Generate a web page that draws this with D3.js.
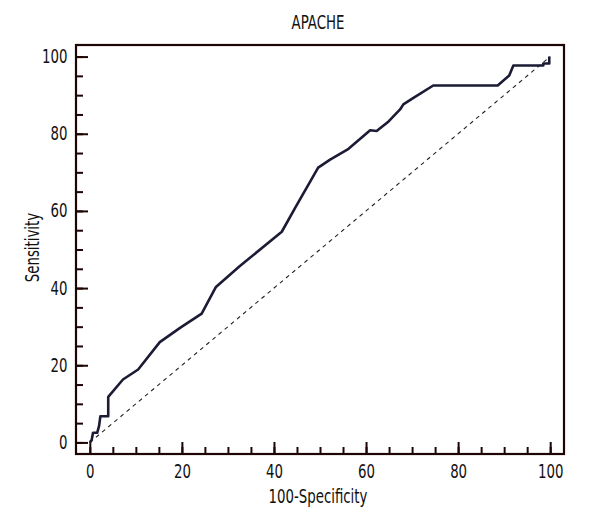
<!DOCTYPE html>
<html>
<head>
<meta charset="utf-8">
<script src="https://cdn.jsdelivr.net/npm/d3@7"></script>
<style>
  body { margin: 0; background: #fff; }
  text { font-family: "DejaVu Sans Condensed", "DejaVu Sans", sans-serif; fill: #111; }
</style>
</head>
<body>
<script>
// ROC curve points (100-specificity, sensitivity)
const fpr = [0, 0.4, 0.7, 1.6, 2.0, 2.3, 4.0, 4.0, 7.2, 10.5, 15.2, 19.6, 24.3, 27.4, 32.6, 41.7,
             44.6, 49.6, 52.2, 56.2, 60.9, 62.3, 64.9, 67.4, 68.1, 70.3, 74.6, 88.6, 91.1, 92.0,
             98.5, 98.5, 99.8, 99.8];
const tpr = [0, 0.6, 2.5, 2.5, 4.2, 6.8, 6.8, 11.8, 16.3, 18.9, 26.0, 29.7, 33.4, 40.3, 45.7, 54.6,
             60.8, 71.2, 73.3, 76.1, 80.9, 80.7, 83.2, 86.3, 87.6, 89.3, 92.5, 92.5, 95.1, 97.7,
             97.7, 98.2, 98.2, 100];
const diagonal = [0, 100];
const major_ticks = [0, 20, 40, 60, 80, 100];
const minor_ticks = d3.range(0, 101, 5);
const title = "APACHE";
const x_title = "100-Specificity";
const y_title = "Sensitivity";

const margin = {top: 45, right: 36, bottom: 66, left: 76};
const width = 600 - margin.left - margin.right;
const height = 520 - margin.top - margin.bottom;
const axis_color = "#1e0505";
const line_color = "#1b1b35";
const font_size = "19px";
const squeeze = 0.78; // reference font is a narrow one

let svg = d3.select("body").append("svg")
        .attr("width", 600)
        .attr("height", 520);

let g = svg.append("g")
        .attr("transform", "translate(" + margin.left + "," + margin.top + ")");

let x = d3.scaleLinear().domain([-3, 103]).range([0, width]);
let y = d3.scaleLinear().domain([-3, 103]).range([height, 0]);

// minor ticks
g.append("g")
  .attr("transform", "translate(0," + height + ")")
  .call(d3.axisBottom(x).tickValues(minor_ticks).tickSize(-7).tickFormat(""))
  .call(a => a.select(".domain").remove());
g.append("g")
  .call(d3.axisLeft(y).tickValues(minor_ticks).tickSize(-7).tickFormat(""))
  .call(a => a.select(".domain").remove());

// major ticks with labels
let xaxis = g.append("g")
  .attr("transform", "translate(0," + height + ")")
  .call(d3.axisBottom(x).tickValues(major_ticks).tickSize(-12).tickPadding(11));
let yaxis = g.append("g")
  .call(d3.axisLeft(y).tickValues(major_ticks).tickSize(-12).tickPadding(11));

[xaxis, yaxis].forEach(a => {
  a.select(".domain").remove();
  a.selectAll("text")
    .style("font-size", font_size)
    .attr("fill", "#111")
    .attr("transform", "scale(" + squeeze + ",1)");
});
g.selectAll(".tick line").attr("stroke", axis_color).attr("stroke-width", 2);

// frame
g.append("rect")
  .attr("width", width)
  .attr("height", height)
  .attr("fill", "none")
  .attr("stroke", axis_color)
  .attr("stroke-width", 2.2);

// reference diagonal
g.append("line")
  .attr("x1", x(diagonal[0])).attr("y1", y(diagonal[0]))
  .attr("x2", x(diagonal[1])).attr("y2", y(diagonal[1]))
  .attr("stroke", "#222")
  .attr("stroke-width", 1.1)
  .attr("stroke-dasharray", "4,4");

// ROC curve
let pts = fpr.map((v, i) => [v, tpr[i]]);
g.append("path")
  .datum(pts)
  .attr("fill", "none")
  .attr("stroke", line_color)
  .attr("stroke-width", 2.6)
  .attr("stroke-linejoin", "round")
  .attr("d", d3.line().x(d => x(d[0])).y(d => y(d[1])));

// titles
svg.append("text")
  .attr("transform", "translate(" + (margin.left + width / 2 - 2) + ",29) scale(" + squeeze + ",1)")
  .attr("text-anchor", "middle")
  .style("font-size", font_size)
  .text(title);

svg.append("text")
  .attr("transform", "translate(" + (margin.left + width / 2 - 2) + ",503) scale(" + squeeze + ",1)")
  .attr("text-anchor", "middle")
  .style("font-size", font_size)
  .text(x_title);

svg.append("text")
  .attr("transform", "translate(39," + (margin.top + height / 2 - 2) + ") rotate(-90) scale(" + squeeze + ",1)")
  .attr("text-anchor", "middle")
  .style("font-size", font_size)
  .text(y_title);
</script>
</body>
</html>
